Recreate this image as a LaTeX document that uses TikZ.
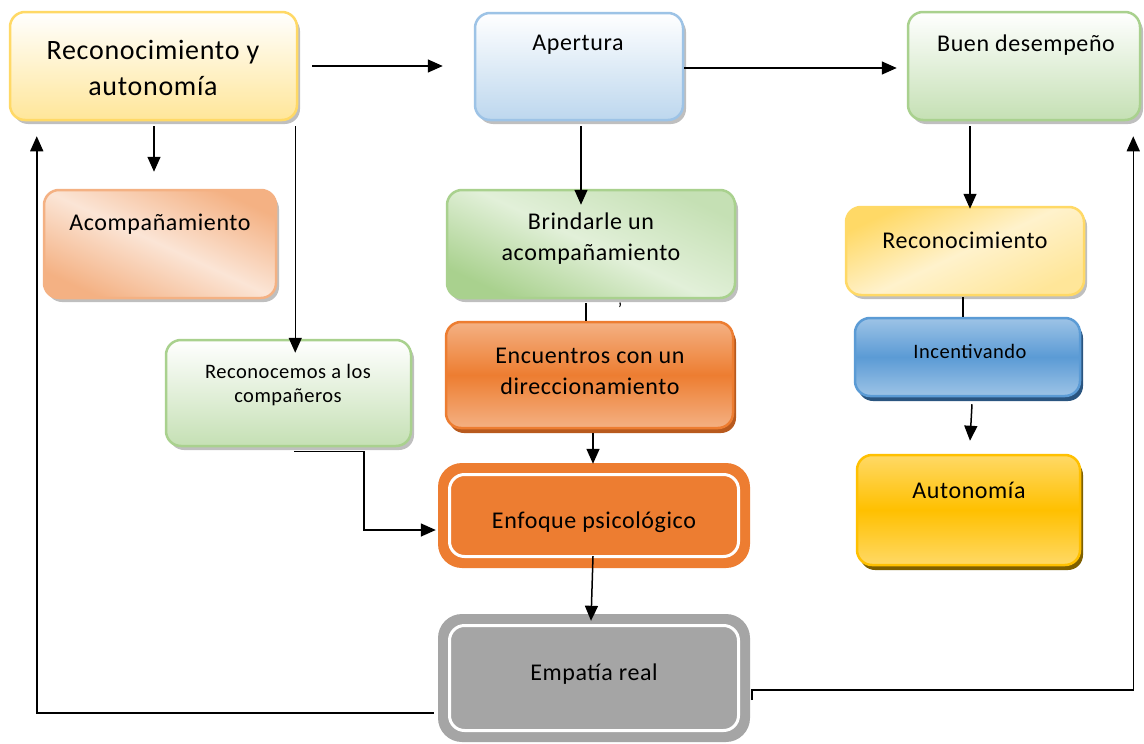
\documentclass[tikz,border=0pt]{standalone}
\usepackage{fontspec}
\setmainfont{Carlito}[LetterSpace=2.5]
\usetikzlibrary{arrows.meta,calc,shadows}
\definecolor{ylwB}{HTML}{FFD966}
\definecolor{ylwL}{HTML}{FFE699}
\definecolor{ylwXL}{HTML}{FFF2CC}
\definecolor{bluB}{HTML}{9DC3E6}
\definecolor{bluL}{HTML}{BDD7EE}
\definecolor{bluM}{HTML}{5B9BD5}
\definecolor{bluD}{HTML}{2A5580}
\definecolor{grnB}{HTML}{A9D18E}
\definecolor{grnL}{HTML}{C5E0B4}
\definecolor{grnXL}{HTML}{E2F0D9}
\definecolor{orgB}{HTML}{F4B183}
\definecolor{orgL}{HTML}{FBE5D6}
\definecolor{org}{HTML}{ED7D31}
\definecolor{orgD}{HTML}{B85A1E}
\definecolor{gold}{HTML}{FFC000}
\definecolor{goldD}{HTML}{7F6000}
\definecolor{gry}{HTML}{A5A5A5}
\tikzset{
  box/.style={rounded corners=15pt, inner sep=0pt, line width=2.5pt},
  shd/.style={drop shadow={shadow xshift=3pt, shadow yshift=-4pt, fill=black, opacity=0.25}},
  bev/.style={drop shadow={shadow xshift=3pt, shadow yshift=-5pt, fill=#1, opacity=1}},
  lbl/.style={font=\fontsize{24}{31}\selectfont, align=center, inner sep=0pt},
  big/.style={font=\fontsize{28}{36}\selectfont, align=center, inner sep=0pt},
  sml/.style={font=\fontsize{20.5}{24}\selectfont, align=center, inner sep=0pt},
  arr/.style={line width=1.5pt, -{Triangle[length=15pt,width=13pt]}},
  ln/.style={line width=1.5pt},
}
\begin{document}
\begin{tikzpicture}[x=1pt,y=-1pt]
\useasboundingbox (0,0) rectangle (1144,744);
\fill[white] (0,0) rectangle (1144,744);

% top row
\node[box, shd, draw=ylwB, top color=white, bottom color=ylwL, minimum width=287pt, minimum height=108pt] (t1) at (153.5,66) {};
\node[box, shd, draw=bluB, top color=white, bottom color=bluL, minimum width=208pt, minimum height=107pt] (ap) at (579,66.5) {};
\node[box, shd, draw=grnB, top color=white, bottom color=grnL, minimum width=232pt, minimum height=108pt] (bd) at (1024,66) {};

% second row
\node[box, shd, draw=orgB, top color=orgB, bottom color=orgB, middle color=orgL, shading angle=-25, minimum width=232pt, minimum height=108pt] (ac) at (160,244) {};
\node[box, shd, draw=grnB, top color=grnL, bottom color=grnB, middle color=grnXL, shading angle=-25, minimum width=288pt, minimum height=108pt] (br) at (591,244) {};
\node[box, shd, draw=ylwB, top color=ylwB, bottom color=ylwL, middle color=ylwXL, shading angle=25, minimum width=238pt, minimum height=88pt] (rr) at (965,251) {};

% middle
\node[box, shd, draw=grnB, top color=white, bottom color=grnL, minimum width=245pt, minimum height=106pt] (rc) at (288.5,393) {};
\node[box, bev=orgD, draw=org, top color=orgB, bottom color=orgB, middle color=org, minimum width=287pt, minimum height=106pt] (en) at (589.5,375) {};
\node[box, bev=bluD, draw=bluM, top color=bluB, bottom color=bluB, middle color=bluM, minimum width=225pt, minimum height=78pt] (in) at (967.5,357) {};
\node[box, bev=goldD, draw=gold, top color=ylwB, bottom color=ylwB, middle color=gold, minimum width=223pt, minimum height=110pt] (au) at (968.5,510) {};

% double-bordered boxes
\node[fill=org, rounded corners=24pt, inner sep=0pt, minimum width=312pt, minimum height=105pt] (ef) at (594,515.5) {};
\node[draw=white, line width=3pt, fill=org, rounded corners=15pt, inner sep=0pt, minimum width=289pt, minimum height=82pt] (efi) at (ef.center) {};
\node[fill=gry, rounded corners=24pt, inner sep=0pt, minimum width=312pt, minimum height=128pt] (em) at (594,678) {};
\node[draw=white, line width=3pt, fill=gry, rounded corners=15pt, inner sep=0pt, minimum width=289pt, minimum height=105pt] (emi) at (em.center) {};

% texts
\node[big] (t1t) at (153,68) {Reconocimiento y\\autonomía};
\node[lbl] (apt) at (578,45) {Apertura};
\node[lbl] (bdt) at (1026,45) {Buen desempeño};
\node[lbl] (act) at (160,224) {Acompañamiento};
\node[lbl] (brt) at (591,239) {Brindarle un\\acompañamiento};
\node[lbl] (rrt) at (965,240) {Reconocimiento};
\node[sml] (rct) at (288,385) {Reconocemos a los\\compañeros};
\node[lbl] (ent) at (590,371) {Encuentros con un\\direccionamiento};
\node[sml] (int) at (970,351) {Incentivando};
\node[lbl] (aut) at (969,490) {Autonomía};
\node[lbl] (eft) at (594,522) {Enfoque psicológico};
\node[lbl] (emt) at (594,674) {Empatía real};
\node[font=\fontsize{18}{18}\selectfont, inner sep=0pt] (cm) at (620,309) {’};

% connectors
\draw[arr] ($(t1.east)+(14,0)$) -- ($(ap.west)+(-31,-0.5)$);
\draw[arr] ($(ap.east)+(0,1.5)$) -- ($(bd.west)+(-10,2)$);
\draw[arr] ($(t1.south)+(0.5,5)$) -- ($(ac.north -| t1.south)+(0.5,-17)$);
\draw[arr] ($(t1.south east)+(-3,5)$) -- ($(rc.north -| t1.south east)+(-3,14)$);
\draw[arr] ($(ap.south)+(2,5)$) -- ($(br.north -| ap.south)+(2,16)$);
\draw[ln] ($(br.south)+(-5,4)$) -- ($(en.north -| br.south)+(-5,0)$);
\draw[arr] ($(en.south)+(3.5,4)$) -- ($(ef.north -| en.south)+(3.5,1)$);
\draw[arr] ($(ef.south)+(-1,-12)$) -- ($(em.north)+(-3,7)$);
\draw[arr] ($(rc.south)+(5.5,4)$) -- ++(70,0) |- ($(ef.west)+(-2,14.5)$);
\draw[arr] ($(em.west)+(-4,35)$) -| ($(t1.south west)+(28,15)$);
\draw[arr] ($(em.east)+(2,22)$) -- ++(0,-10) -| ($(bd.south east)+(-8,15)$);
\draw[arr] ($(bd.south)+(-54,5)$) -- ($(rr.north -| bd.south)+(-54,3)$);
\draw[ln] ($(rr.south)+(-2,1)$) -- ($(in.north -| rr.south)+(-2,0)$);
\draw[arr] ($(in.south)+(4.5,7)$) -- ($(au.north)+(1.5,-13)$);
\end{tikzpicture}
\end{document}
